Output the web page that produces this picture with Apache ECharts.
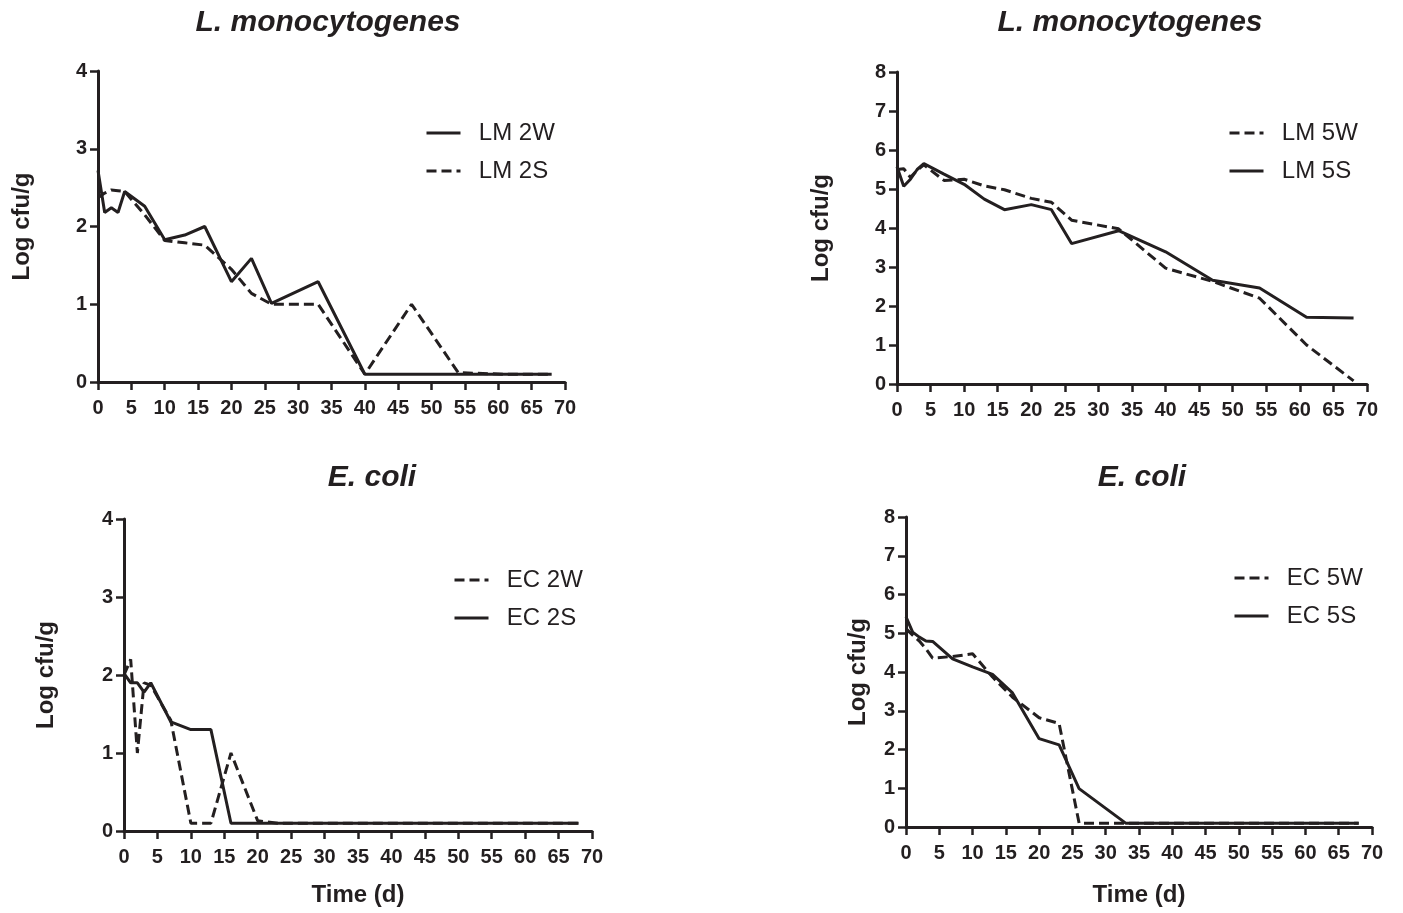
<!DOCTYPE html>
<html>
<head>
<meta charset="utf-8">
<script src="https://cdn.jsdelivr.net/npm/echarts@6/dist/echarts.min.js"></script>
<style>
html,body{margin:0;padding:0;background:#fff;}
#chart{width:1403px;height:913px;}
</style>
</head>
<body>
<div id="chart"></div>
<script>
// Sampling days (d)
const days = [0, 1, 2, 3, 4, 7, 10, 13, 16, 20, 23, 26, 33, 40, 47, 54, 61, 68];

// L. monocytogenes, low inoculum (Log cfu/g)
const LM_2W = [2.72, 2.18, 2.24, 2.18, 2.45, 2.26, 1.83, 1.89, 2.00, 1.29, 1.59, 1.01, 1.29, 0.10, 0.10, 0.10, 0.10, 0.10];
const LM_2S = [2.37, 2.43, 2.47, 2.46, 2.45, 2.15, 1.82, 1.79, 1.76, 1.45, 1.14, 1.00, 1.00, 0.10, 1.00, 0.12, 0.10, 0.10];

// L. monocytogenes, high inoculum
const LM_5W = [5.50, 5.52, 5.30, 5.48, 5.62, 5.22, 5.25, 5.08, 4.98, 4.76, 4.66, 4.20, 3.98, 2.97, 2.63, 2.20, 1.00, 0.08];
const LM_5S = [5.57, 5.07, 5.25, 5.50, 5.65, 5.38, 5.12, 4.74, 4.47, 4.60, 4.47, 3.60, 3.93, 3.39, 2.66, 2.46, 1.71, 1.69];

// E. coli, low inoculum
const EC_2W = [2.00, 2.20, 1.00, 1.90, 1.87, 1.42, 0.10, 0.10, 1.00, 0.13, 0.10, 0.10, 0.10, 0.10, 0.10, 0.10, 0.10, 0.10];
const EC_2S = [2.02, 1.90, 1.90, 1.78, 1.90, 1.40, 1.30, 1.30, 0.10, 0.10, 0.10, 0.10, 0.10, 0.10, 0.10, 0.10, 0.10, 0.10];

// E. coli, high inoculum
const EC_5W = [5.12, 4.95, 4.80, 4.60, 4.36, 4.40, 4.47, 3.87, 3.35, 2.82, 2.67, 0.10, 0.10, 0.10, 0.10, 0.10, 0.10, 0.10];
const EC_5S = [5.42, 5.03, 4.90, 4.80, 4.79, 4.34, 4.13, 3.94, 3.46, 2.28, 2.12, 0.99, 0.10, 0.10, 0.10, 0.10, 0.10, 0.10];

const titles = ['L. monocytogenes', 'L. monocytogenes', 'E. coli', 'E. coli'];
const xTicks = {min: 0, max: 70, interval: 5};
const yMaxLow = 4, yMaxHigh = 8;
const yName = 'Log cfu/g';
const xName = 'Time (d)';

const FONT = '"Liberation Sans", Arial, sans-serif';
const INK = '#231f20';

function pairs(xs, ys) { return xs.map((x, i) => [x, ys[i]]); }

const grids = [
  {left: 98, top: 71, width: 467, height: 311},
  {left: 897, top: 72, width: 470, height: 312},
  {left: 124, top: 519, width: 468, height: 312},
  {left: 906, top: 517, width: 466, height: 310}
];

function xAxis(i, withName) {
  return {
    type: 'value', gridIndex: i, min: xTicks.min, max: xTicks.max, interval: xTicks.interval,
    name: withName ? xName : '', nameLocation: 'middle', nameGap: i === 2 ? 52 : 56,
    nameTextStyle: {fontFamily: FONT, fontWeight: 'bold', fontSize: 24, color: INK},
    axisLine: {lineStyle: {color: INK, width: 3}},
    axisTick: {length: 8, lineStyle: {color: INK, width: 2.5}},
    axisLabel: {margin: 16, fontFamily: FONT, fontWeight: 'bold', fontSize: 20, color: INK},
    splitLine: {show: false}
  };
}
function yAxis(i, max, gap) {
  return {
    type: 'value', gridIndex: i, min: 0, max: max, interval: 1,
    name: yName, nameLocation: 'middle', nameGap: gap,
    nameTextStyle: {fontFamily: FONT, fontWeight: 'bold', fontSize: 24, color: INK},
    axisLine: {show: true, lineStyle: {color: INK, width: 3}},
    axisTick: {show: true, length: 8, lineStyle: {color: INK, width: 2.5}},
    axisLabel: {margin: 11, fontFamily: FONT, fontWeight: 'bold', fontSize: 20, color: INK},
    splitLine: {show: false}
  };
}

const SOLID = 'solid';
const DASH = [10, 5];
function line(name, idx, ys, dash) {
  return {
    type: 'line', name: name, xAxisIndex: idx, yAxisIndex: idx,
    data: pairs(days, ys), symbol: 'none', animation: false,
    lineStyle: {color: INK, width: 3, type: dash},
    itemStyle: {color: INK}
  };
}

function legend(names, left, top) {
  return {
    data: names, orient: 'vertical', left: left, top: top,
    itemWidth: 34, itemHeight: 14, itemGap: 14, selectedMode: false,
    itemStyle: {opacity: 0},
    lineStyle: {width: 3},
    formatter: n => '  ' + n,
    textStyle: {fontFamily: FONT, fontSize: 24, color: INK}
  };
}

const titleCenters = [[328, 8], [1130, 8], [372, 463], [1142, 463]];

const option = {
  backgroundColor: '#fff',
  animation: false,
  title: titles.map((t, i) => ({
    text: t, left: titleCenters[i][0], top: titleCenters[i][1], textAlign: 'center', padding: 0,
    textStyle: {fontFamily: FONT, fontWeight: 'bold', fontStyle: 'italic', fontSize: 30, color: INK}
  })),
  grid: grids,
  xAxis: [xAxis(0, false), xAxis(1, false), xAxis(2, true), xAxis(3, true)],
  yAxis: [yAxis(0, yMaxLow, 64), yAxis(1, yMaxHigh, 64), yAxis(2, yMaxLow, 66), yAxis(3, yMaxHigh, 36)],
  legend: [
    legend(['LM 2W', 'LM 2S'], 420, 116),
    legend(['LM 5W', 'LM 5S'], 1223, 116),
    legend(['EC 2W', 'EC 2S'], 448, 563),
    legend(['EC 5W', 'EC 5S'], 1228, 561)
  ],
  series: [
    line('LM 2W', 0, LM_2W, SOLID),
    line('LM 2S', 0, LM_2S, DASH),
    line('LM 5W', 1, LM_5W, DASH),
    line('LM 5S', 1, LM_5S, SOLID),
    line('EC 2W', 2, EC_2W, DASH),
    line('EC 2S', 2, EC_2S, SOLID),
    line('EC 5W', 3, EC_5W, DASH),
    line('EC 5S', 3, EC_5S, SOLID)
  ]
};

const chart = echarts.init(document.getElementById('chart'), null, {renderer: 'canvas'});
chart.setOption(option);
</script>
</body>
</html>
